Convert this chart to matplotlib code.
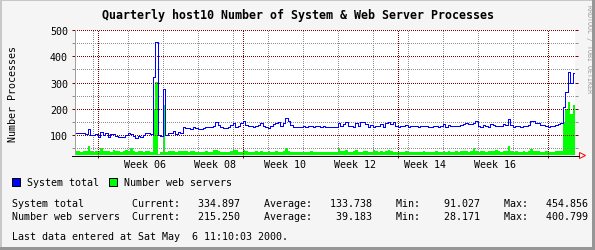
import datetime as dt
import matplotlib
matplotlib.use("Agg")
import matplotlib.pyplot as plt
import matplotlib.dates as mdates
from matplotlib.patches import Rectangle, Polygon
from matplotlib.lines import Line2D
from matplotlib.transforms import blended_transform_factory

W, H = 595, 251
PT = 72.0 / 100  # one pixel in points at dpi 100

# time range of the quarterly graph
end_time = dt.datetime(2000, 5, 6, 11, 10, 3)
start_time = end_time - dt.timedelta(days=100)
step = dt.timedelta(hours=12)

# half-day samples
system_total = [
    107, 109, 109, 109, 104, 122, 100, 100, 104, 93,
    113, 100, 109, 95, 104, 104, 96, 93, 93, 93,
    100, 109, 104, 96, 91, 96, 93, 100, 107, 107,
    104, 320, 454, 100, 96, 277, 100, 107, 107, 117,
    104, 113, 109, 133, 129, 126, 122, 133, 128, 124,
    122, 129, 131, 133, 133, 136, 149, 138, 130, 126,
    129, 133, 138, 146, 133, 136, 146, 153, 138, 136,
    136, 133, 136, 140, 146, 136, 131, 129, 137, 143,
    146, 149, 136, 146, 166, 153, 140, 133, 133, 133,
    133, 134, 133, 136, 134, 133, 136, 134, 133, 135,
    133, 133, 133, 133, 133, 146, 136, 143, 149, 136,
    136, 130, 146, 136, 149, 150, 142, 133, 140, 133,
    136, 136, 142, 133, 146, 149, 143, 150, 136, 133,
    134, 136, 138, 133, 135, 137, 134, 133, 135, 137,
    134, 133, 133, 135, 137, 133, 135, 142, 133, 140,
    136, 135, 136, 136, 140, 143, 146, 143, 144, 146,
    153, 136, 133, 140, 136, 133, 142, 140, 137, 136,
    137, 142, 140, 161, 140, 133, 136, 137, 133, 137,
    136, 138, 153, 155, 146, 146, 140, 138, 136, 133,
    135, 137, 140, 142, 146, 208, 265, 340, 300, 334.897,
]
web_servers = [
    39, 41, 38, 40, 39, 59, 39, 38, 40, 39,
    50, 40, 39, 41, 38, 44, 39, 40, 38, 39,
    44, 40, 50, 39, 38, 40, 39, 38, 40, 39,
    38, 200, 302, 30, 37, 215, 38, 40, 39, 41,
    38, 39, 40, 42, 39, 38, 40, 39, 37, 38,
    37, 38, 39, 37, 38, 43, 44, 40, 38, 37,
    38, 37, 39, 45, 44, 38, 37, 43, 39, 38,
    37, 38, 39, 37, 40, 38, 37, 39, 38, 37,
    39, 38, 37, 40, 50, 41, 38, 37, 38, 37,
    38, 37, 38, 37, 39, 37, 38, 37, 36, 37,
    36, 37, 36, 37, 38, 50, 39, 41, 43, 37,
    38, 41, 43, 38, 37, 39, 42, 37, 38, 43,
    39, 37, 40, 38, 39, 44, 41, 38, 37, 38,
    37, 38, 39, 36, 37, 38, 37, 36, 38, 39,
    37, 36, 38, 37, 39, 36, 38, 41, 37, 39,
    38, 37, 39, 38, 40, 41, 39, 38, 40, 52,
    39, 38, 40, 39, 38, 41, 39, 40, 43, 39,
    38, 39, 40, 59, 40, 38, 39, 37, 38, 39,
    38, 40, 46, 42, 41, 39, 38, 37, 39, 38,
    37, 38, 39, 40, 41, 150, 200, 227, 180, 215.25,
]

series_names = ["System total", "Number web servers"]
series_colors = ["#0000ff", "#00ff00"]
current = [334.897, 215.250]
average = [133.738, 39.183]
minimum = [91.027, 28.171]
maximum = [454.856, 400.799]

y_min, y_max = 25, 500
y_major = [100, 200, 300, 400, 500]
y_minor = [50, 150, 250, 350, 450]
label_weeks = [6, 8, 10, 12, 14, 16]
month_starts = [dt.datetime(2000, m, 1) for m in (2, 3, 4, 5)]
week_starts = [dt.datetime(2000, 1, 31) + dt.timedelta(weeks=k) for k in range(14)]

title = "Quarterly host10 Number of System & Web Server Processes"
y_title = "Number Processes"
last_update = "Last data entered at Sat May  6 11:10:03 2000."
watermark = "RRDTOOL / TOBI OETIKER"

BACK, SHADEA, SHADEB = "#f5f5f5", "#c8c8c8", "#969696"
GRID, MGRID = "#8f8f8f", "#800000"
MONO = "DejaVu Sans Mono"
SMALL = 6 / 0.6021 * PT


def fx(x):
    return x / W


def fy(y):
    return 1 - y / H


fig = plt.figure(figsize=(W / 100, H / 100), dpi=100, facecolor=BACK)

# 3d frame round the image
fig.add_artist(Rectangle((0, fy(2)), 1, 2 / H, transform=fig.transFigure, color=SHADEA, lw=0))
fig.add_artist(Rectangle((0, 0), 2 / W, 1, transform=fig.transFigure, color=SHADEA, lw=0))
fig.add_artist(Rectangle((0, 0), 1, 3 / H, transform=fig.transFigure, color=SHADEB, lw=0))
fig.add_artist(Rectangle((fx(W - 3), 0), 3 / W, 1, transform=fig.transFigure, color=SHADEB, lw=0))

ax = fig.add_axes([fx(75), fy(156), 500 / W, 125 / H])
ax.set_facecolor("white")
for s in ax.spines.values():
    s.set_visible(False)

t = [mdates.date2num(start_time + i * step) for i in range(len(system_total) + 1)]
blue = system_total + [system_total[-1]]
green = web_servers + [web_servers[-1]]

ax.fill_between(t, y_min, green, step="post", color=series_colors[1], lw=0,
                antialiased=False, zorder=1)
ax.plot(t, blue, drawstyle="steps-post", color=series_colors[0], lw=PT,
        antialiased=False, zorder=3)

x0, x1 = mdates.date2num(start_time), mdates.date2num(end_time)
ax.set_xlim(x0, x1)
ax.set_ylim(y_min, y_max)

# dotted grid, dots lined up on whole pixels
dots = dict(lw=PT, linestyle=(0.5, (1, 1)), snap=True, zorder=2)
for v in y_minor:
    ax.axhline(v, color=GRID, **dots)
for d in week_starts:
    if d not in month_starts:
        ax.axvline(mdates.date2num(d), color=GRID, **dots)
for v in y_major:
    ax.axhline(v, color=MGRID, **dots)
for d in month_starts:
    ax.axvline(mdates.date2num(d), color=MGRID, **dots)

# axis lines
ax.axvline(x0, color="#a0a0a0", lw=PT, zorder=4)
ax.axvline(x1, color="#a0a0a0", lw=PT, zorder=4)
fig.add_artist(Line2D([fx(72), fx(579)], [fy(156.5), fy(156.5)], color="black",
                      lw=PT, transform=fig.transFigure))
fig.add_artist(Polygon([(fx(579.5), fy(153.5)), (fx(585.5), fy(156.5)), (fx(579.5), fy(159.5))],
                       closed=True, fill=False, edgecolor="red", lw=PT,
                       transform=fig.transFigure))

# ticks
ax.set_yticks(y_major)
ax.set_yticks(y_minor, minor=True)
ax.set_yticklabels([str(v) for v in y_major], family=MONO, fontsize=SMALL)
ax.tick_params(axis="y", which="both", left=True, right=True, direction="out",
               length=3 * PT, width=PT, pad=4 * PT)
ax.tick_params(axis="y", which="major", color=MGRID)
ax.tick_params(axis="y", which="minor", color=GRID)
ax.set_xticks([mdates.date2num(d) for d in month_starts])
ax.set_xticklabels([])
ax.tick_params(axis="x", which="major", direction="out", length=3 * PT, width=PT,
               color=MGRID)

# week labels centred on the middle of each week
lab_tr = blended_transform_factory(ax.transData, fig.transFigure)
for w in label_weeks:
    mid = dt.datetime.combine(dt.date.fromisocalendar(2000, w, 1), dt.time()) + dt.timedelta(days=3.5)
    ax.text(mdates.date2num(mid), fy(165), "Week %02d" % w, transform=lab_tr,
            ha="center", va="center", family=MONO, fontsize=SMALL)

# titles
fig.text(0.5, fy(15.5), title, ha="center", va="center", family=MONO,
         fontsize=7 / 0.6021 * PT, fontweight="bold")
fig.text(fx(12.5), fy(94), y_title, rotation=90, ha="center", va="center",
         family=MONO, fontsize=SMALL)
fig.text(fx(588.5), fy(5), watermark, rotation=270, ha="center", va="top",
         family=MONO, fontsize=4 / 0.6021 * PT, color="#9a9a9a")

# legend
for name, col, lx in zip(series_names, series_colors, (12, 109)):
    fig.add_artist(Rectangle((fx(lx), fy(187)), 8 / W, 8 / H, transform=fig.transFigure,
                             facecolor=col, edgecolor="black", lw=PT))
    fig.text(fx(lx + 15), fy(183), name, ha="left", va="center", family=MONO,
             fontsize=SMALL)

# statistics
for k, yy in enumerate((204, 217.5)):
    line = "%-20sCurrent:%10.3f    Average:%10.3f    Min:%10.3f    Max:%10.3f" % (
        series_names[k], current[k], average[k], minimum[k], maximum[k])
    fig.text(fx(12), fy(yy), line, ha="left", va="center", family=MONO, fontsize=SMALL)

fig.text(fx(12), fy(237.5), last_update, ha="left", va="center", family=MONO,
         fontsize=SMALL)

fig.savefig("out.png", dpi=100, facecolor=BACK)
